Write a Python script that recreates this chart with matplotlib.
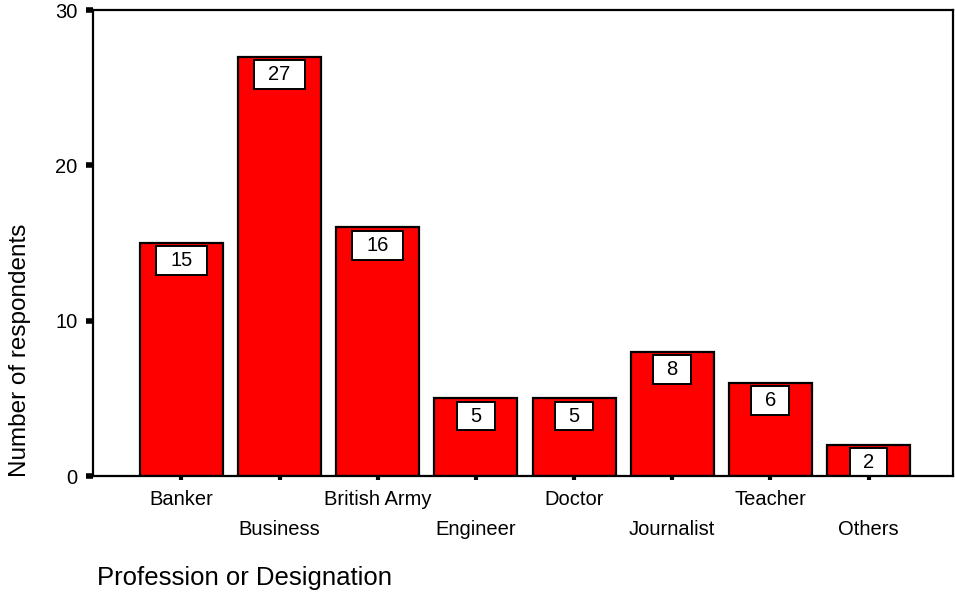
import matplotlib
matplotlib.use("Agg")
import matplotlib.pyplot as plt
import numpy as np

categories = ["Banker", "Business", "British Army", "Engineer",
              "Doctor", "Journalist", "Teacher", "Others"]
counts = [15, 27, 16, 5, 5, 8, 6, 2]
y_ticks = [0, 10, 20, 30]

plt.rcParams["font.family"] = ["Liberation Sans", "DejaVu Sans"]

fig = plt.figure(figsize=(9.55, 5.92), dpi=100)
ax = fig.add_axes([93 / 955, 116 / 592, 860 / 955, 466 / 592])

x = np.arange(len(categories))
ax.bar(x, counts, width=0.845, color="#ff0000", edgecolor="black",
       linewidth=1.6, zorder=2)

# value boxes sitting just inside the top of each bar
box_h = 1.85
box_gap = 0.22
for xi, v in zip(x, counts):
    label = str(v)
    w = 0.52 if len(label) > 1 else 0.385
    bottom = max(v - box_gap - box_h, 0)
    top = v - box_gap
    ax.bar(xi, top - bottom, bottom=bottom, width=w, color="white",
           edgecolor="black", linewidth=1.4, zorder=3)
    ax.text(xi, (top + bottom) / 2, label, ha="center", va="center",
            fontsize=14.5, zorder=4)

ax.set_xlim(-0.9, 7.86)
ax.set_ylim(0, 30)
ax.set_yticks(y_ticks)
ax.set_xticks(x)
ax.set_xticklabels(categories, fontsize=14.5)
for lab in ax.get_xticklabels()[1::2]:
    lab.set_y(-30 / 466)

ax.tick_params(axis="y", direction="out", length=5, width=4, pad=6,
               labelsize=14.5)
ax.tick_params(axis="x", direction="out", length=3, width=3, pad=7)

for s in ax.spines.values():
    s.set_linewidth(1.6)
    s.set_zorder(5)

ax.set_ylabel("Number of respondents", fontsize=17.5)
ax.yaxis.set_label_coords(-0.072, 0.27)
fig.text(97 / 955, 1 - 578 / 592, "Profession or Designation",
         ha="left", va="center", fontsize=18.5)

fig.savefig("out.png", dpi=100)
